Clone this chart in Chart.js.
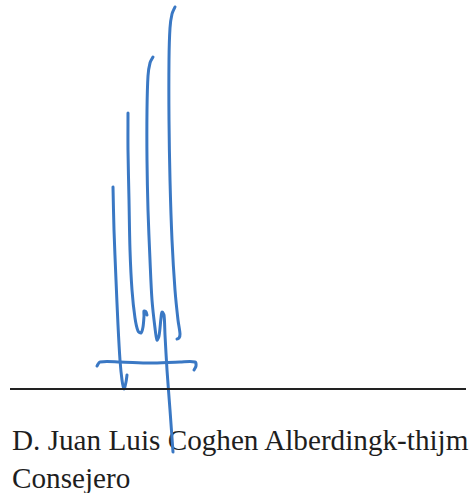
<!DOCTYPE html>
<html>
<head>
<meta charset="utf-8">
<script src="https://cdn.jsdelivr.net/npm/chart.js"></script>
<style>
  html, body { margin:0; padding:0; background:#fff; }
  #wrap { position:relative; width:473px; height:493px; overflow:hidden; }
  .name { position:absolute; left:12px; font-family:"Liberation Serif","Times New Roman",serif;
          font-size:29.2px; line-height:29px; color:#1e1e1e; white-space:nowrap; }
  #sig { position:absolute; left:0; top:0; pointer-events:none; }
</style>
</head>
<body>
<div id="wrap">
  <div class="name" id="line1" style="top:426px">D. Juan Luis Coghen Alberdingk-thijm</div>
  <div class="name" id="line2" style="top:464px">Consejero</div>
  <canvas id="sig" width="473" height="493"></canvas>
</div>
<script>
// signature strokes (page units, y grows downward)
const stroke1 = [[113,187],[114,230],[116,280],[118,325],[120,360],[122,380],[124,389],[126,382],[127,375]];
const stroke2 = [[128,113],[128,150],[129,200],[130,250],[132,290],[135,318],[138,331],[141,333],[143,327],[144,316],[144,311],[146,312],[147,315]];
const stroke3 = [[153,57],[150,63],[148,76],[147,110],[147,160],[148,210],[150,260],[152,300],[155,328],[157,340],[159,336],[161,318],[162,312],[164,315],[165,335],[167,370],[170,410],[173,452]];
const stroke4 = [[175,7],[172,14],[170,28],[169,60],[169,120],[170,180],[172,240],[175,290],[178,320],[180,334],[179,338],[177,339]];
const crossbar = [[97,366],[100,362],[120,362],[150,363],[180,362],[195,362],[196,366],[194,370]];
// printed signature rule
const rule = [[10,389],[466,389]];

const INK = '#3a78c4';

function pts(arr){ return arr.map(p => ({x:p[0], y:p[1]})); }
function inkSet(arr){
  return { data: pts(arr), showLine:true, borderColor:INK, borderWidth:3, pointRadius:0,
           tension:0.3, borderCapStyle:'round', borderJoinStyle:'round' };
}

new Chart(document.getElementById('sig').getContext('2d'), {
  type: 'scatter',
  data: {
    datasets: [
      { data: pts(rule), showLine:true, borderColor:'#222', borderWidth:1.8, pointRadius:0, tension:0 },
      inkSet(stroke1), inkSet(stroke2), inkSet(stroke3), inkSet(stroke4), inkSet(crossbar)
    ]
  },
  options: {
    responsive:false,
    animation:false,
    layout:{ padding:0 },
    plugins:{ legend:{display:false}, tooltip:{enabled:false} },
    scales:{
      x:{ type:'linear', min:0, max:473, display:false },
      y:{ type:'linear', min:0, max:493, reverse:true, display:false }
    }
  }
});
</script>
</body>
</html>
